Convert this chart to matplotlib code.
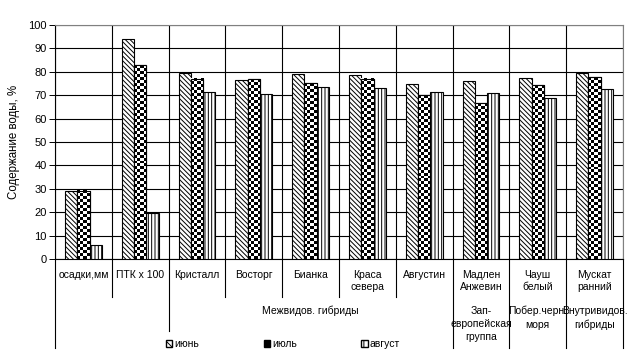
import numpy as np
import matplotlib
matplotlib.use("Agg")
import matplotlib.pyplot as plt
from matplotlib.patches import Patch

plt.rcParams['font.family'] = ['Liberation Sans', 'DejaVu Sans']
plt.rcParams['hatch.linewidth'] = 0.7

# data
categories = ["осадки,мм", "ПТК х 100", "Кристалл", "Восторг", "Бианка",
              "Краса\nсевера", "Августин", "Мадлен\nАнжевин", "Чауш\nбелый",
              "Мускат\nранний"]
june = [29.2, 93.9, 79.7, 76.5, 79.1, 78.5, 74.7, 76.1, 77.2, 79.5]
july = [29.2, 82.8, 77.0, 76.8, 75.2, 77.1, 70.0, 66.6, 74.3, 77.7]
august = [6.1, 19.6, 71.3, 70.4, 73.4, 73.0, 71.3, 70.8, 68.7, 72.5]
series_names = ["июнь", "июль", "август"]

# second level of the category axis: (first index, last index, label)
groups = [(2, 6, "Межвидов. гибриды"),
          (7, 7, "Зап-\nевропейская\nгруппа"),
          (8, 8, "Побер.черн.\nморя"),
          (9, 9, "Внутривидов.\nгибриды")]

W, H = 636, 362
fig = plt.figure(figsize=(W / 100, H / 100), dpi=100)
left, right, top, bottom = 55, 623, 25, 259
ax = fig.add_axes([left / W, 1 - bottom / H, (right - left) / W, (bottom - top) / H])

fs = 7.5
n = len(categories)
x = np.arange(n) + 0.5
bw = 0.217
px_per_x = (right - left) / n
px_per_y = (bottom - top) / 100.0

ax.bar(x - bw, june, bw, color="white", edgecolor="black", linewidth=0.8,
       hatch="\\\\\\\\\\\\\\", zorder=3)
bars_jul = ax.bar(x, july, bw, color="white", edgecolor="black", linewidth=0.8, zorder=3)
ax.bar(x + bw, august, bw, color="white", edgecolor="black", linewidth=0.8,
       hatch="|||||", zorder=3)

# checkerboard fill for the July bars
cell = 3.0
for b in bars_jul:
    x0, w, h = b.get_x(), b.get_width(), b.get_height()
    nc = max(1, int(round(w * px_per_x / cell)))
    nr = max(1, int(round(h * px_per_y / cell)))
    board = (np.indices((nr, nc)).sum(axis=0) % 2).astype(float)
    ax.imshow(board, cmap="gray", extent=[x0, x0 + w, 0, h], aspect="auto",
              interpolation="nearest", zorder=3.5, origin="lower")
    ax.bar(x0 + w / 2, h, w, color="none", edgecolor="black", linewidth=0.8, zorder=4)

ax.set_xlim(0, n)
ax.set_ylim(0, 100)
ax.set_yticks(range(0, 101, 10))
ax.tick_params(axis="y", labelsize=8, length=4, width=0.7, pad=2)
ax.set_xticks([])
ax.grid(axis="y", color="black", linewidth=0.8, zorder=0)
for i in range(n + 1):
    ax.axvline(i, color="black", linewidth=0.8, zorder=1)
ax.set_ylabel("Содержание воды, %", fontsize=8.3)
ax.yaxis.set_label_coords(-(left - 20) / (right - left), 0.5)
for s in ["top", "right"]:
    ax.spines[s].set_color("#808080")
for s in ["left", "bottom"]:
    ax.spines[s].set_linewidth(0.8)


def ya(ypx):
    # pixel row -> axes y coordinate
    return (bottom - ypx) / (bottom - top)


tr = ax.get_xaxis_transform()
# divider lines under the axis
ends = {0: 348, 1: 297, 2: 331, 3: 297, 4: 297, 5: 297, 6: 297,
        7: 348, 8: 348, 9: 348, 10: 348}
for i, yend in ends.items():
    ax.plot([i, i], [0, ya(yend)], color="black", linewidth=0.8,
            transform=tr, clip_on=False)

for xi, lab in zip(x, categories):
    ax.text(xi, ya(270), lab, transform=tr, ha="center", va="top",
            fontsize=fs, linespacing=1.25)
for a, b, lab in groups:
    ax.text((a + b + 1) / 2, ya(306), lab, transform=tr, ha="center", va="top",
            fontsize=fs, linespacing=1.4)

handles = [Patch(facecolor="white", edgecolor="black", hatch="\\\\\\\\"),
           Patch(facecolor="black", edgecolor="black"),
           Patch(facecolor="white", edgecolor="black", hatch="|||")]
fig.legend(handles, series_names, loc="center", ncol=3, frameon=False,
           bbox_to_anchor=(283 / W, 1 - 344 / H), fontsize=fs,
           handlelength=0.6, handleheight=0.6, handletextpad=0.2,
           columnspacing=6.2, borderpad=0.2)

fig.savefig("out.png", dpi=100)
